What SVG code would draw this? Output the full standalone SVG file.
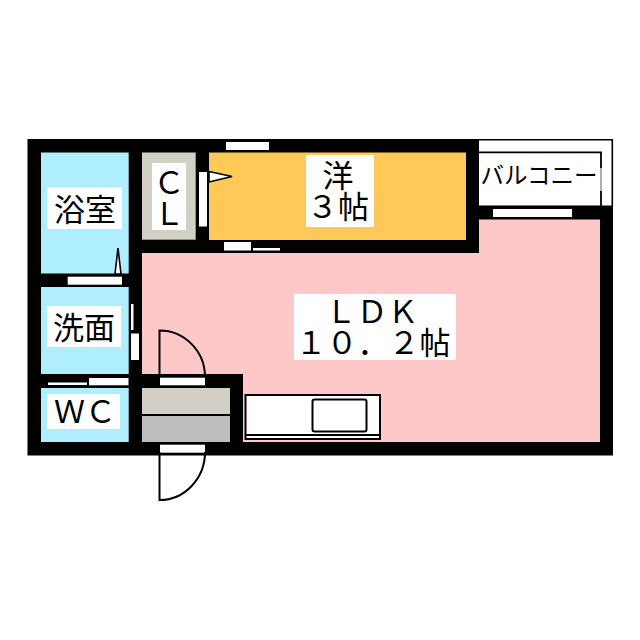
<svg xmlns="http://www.w3.org/2000/svg" width="640" height="640" viewBox="0 0 640 640">
<style>
.w{fill:#000}.o{fill:#fff}
.t{font-family:"Noto Sans CJK JP","Noto Sans CJK SC",sans-serif;fill:#000;text-anchor:middle}
.l{fill:none;stroke:#000;stroke-width:1.6}
.s{fill:#fff;stroke:#000;stroke-width:1.6}
</style>
<rect width="640" height="640" fill="#fff"/>
<g id="walls">
<path class="w" d="M27.5 139H479V207H613V455.5H27.5Z"/>
</g>
<g id="balcony">
<rect x="479" y="140" width="133" height="67" fill="#fff"/>
<path class="l" d="M479 139.7H612.3V207"/>
<path d="M479 152.3H601V168M601 191V207" fill="none" stroke="#000" stroke-width="1.8"/>
<path d="M601 168V191" stroke="#999" stroke-width="1.6"/>
<rect x="479" y="205.500" width="134" height="3" class="w"/>
<text class="t" x="539" y="184" font-size="23.500">バルコニー</text>
</g>
<g id="ldk">
<path fill="#ffc8c8" d="M142 253H479V219.500H600V442H243V374H142Z"/>
<rect class="o" x="294" y="294" width="162" height="66"/>
<text class="t" font-size="31"><tspan x="372" y="323">ＬＤＫ</tspan><tspan x="373" y="354">１０．２帖</tspan></text>
<rect class="o" x="493" y="209" width="79" height="8"/>
</g>
<g id="bath">
<rect x="41" y="152.500" width="87.700" height="121" fill="#aeeeff"/>
<rect class="o" x="47.500" y="187.500" width="74.500" height="41.500"/>
<text class="t" x="85" y="221" font-size="31">浴室</text>
<rect class="o" x="67.700" y="276.700" width="54.300" height="8"/>
<path class="s" d="M118 248L115 274H121Z"/>
</g>
<g id="wash">
<rect x="41" y="287" width="87.700" height="87" fill="#aeeeff"/>
<rect class="o" x="47" y="306" width="74" height="41"/>
<text class="t" x="84" y="339" font-size="31">洗面</text>
<rect class="o" x="131" y="304" width="2.500" height="26"/>
<rect class="o" x="131" y="333.500" width="8" height="26.500"/>
</g>
<g id="wc">
<rect x="41" y="388" width="87.700" height="54" fill="#aeeeff"/>
<rect class="o" x="47" y="394" width="73" height="35"/>
<text class="t" x="85" y="423" font-size="31">ＷＣ</text>
<rect class="o" x="48" y="382.500" width="39" height="2.500"/>
<rect class="o" x="89" y="378" width="39.500" height="7.300"/>
</g>
<g id="closet">
<rect x="142" y="152.500" width="53.700" height="87.200" fill="#d2d0c4"/>
<rect class="o" x="152" y="163" width="34" height="67"/>
<text class="t" font-size="31"><tspan x="169" y="194">Ｃ</tspan><tspan x="169" y="225">Ｌ</tspan></text>
<rect class="o" x="199" y="172" width="8" height="54.500"/>
</g>
<g id="room">
<rect x="209" y="152.500" width="257" height="87.500" fill="#ffc957"/>
<rect class="o" x="306" y="155" width="68" height="72"/>
<text class="t" font-size="31"><tspan x="338" y="187">洋</tspan><tspan x="338" y="218">３帖</tspan></text>
<rect class="o" x="226" y="142" width="43" height="8"/>
<rect class="o" x="224" y="242" width="27" height="8.500"/>
<rect class="o" x="253" y="248" width="27" height="2.500"/>
<path class="s" d="M209 171.500L232 176.500L209 182Z"/>
</g>
<g id="entrance">
<rect x="142" y="388" width="88" height="26" fill="#d2d0c4"/>
<rect x="142" y="416" width="88" height="26" fill="#bebebe"/>
<rect class="o" x="160" y="377.700" width="45" height="7.600"/>
<rect class="o" x="160" y="444.700" width="45" height="8"/>
</g>
<g id="connectors">
<path d="M159.500 377V330.500A45.500 46.500 0 0 1 205 377" fill="none" stroke="#000" stroke-width="2"/>
<path d="M159.500 452V500A45.500 48 0 0 0 205 452" fill="none" stroke="#000" stroke-width="2"/>
</g>
<g id="kitchen">
<rect x="245.500" y="395" width="134.500" height="44" fill="#fff" stroke="#000" stroke-width="2"/>
<path d="M245 435H380" stroke="#000" stroke-width="2"/>
<rect x="312.500" y="399.500" width="54" height="32" rx="2" fill="#fff" stroke="#000" stroke-width="2"/>
</g>
</svg>
